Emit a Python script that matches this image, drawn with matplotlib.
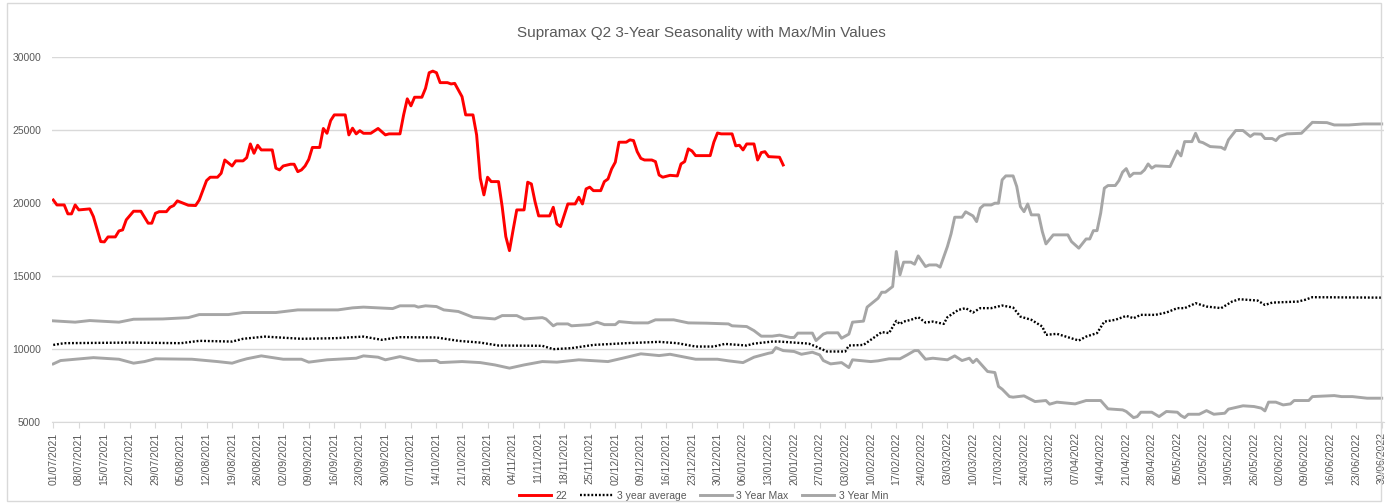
import numpy as np
import pandas as pd
import matplotlib
matplotlib.use("Agg")
import matplotlib.pyplot as plt
import matplotlib.dates as mdates
from matplotlib.patches import Rectangle

plt.rcParams["font.family"] = ["Liberation Sans", "DejaVu Sans"]

# season starts 01/07/2021, x values are days since that date
season_start = "2021-07-01"
season_end = "2022-06-30"

red_day = [0, 1, 3, 4, 5, 6, 7, 10, 11, 13, 14, 15, 17, 18, 19, 20, 22, 24, 26, 27, 28, 29, 31, 32, 33, 34,
           37, 39, 40, 42, 43, 45, 46, 47, 49, 50, 52, 53, 54, 55, 56, 57, 60, 61, 62, 63, 65, 66, 67, 68, 69,
           70, 71, 73, 74, 75, 76, 77, 80, 81, 82, 83, 84, 85, 87, 89, 91, 92, 95, 96, 97, 98, 99, 101, 102,
           103, 104, 105, 106, 108, 109, 110, 112, 113, 115, 116, 117, 118, 119, 120, 122, 123, 124, 125, 126,
           127, 129, 130, 131, 132, 133, 136, 137, 138, 139, 141, 143, 144, 145, 146, 147, 148, 150, 151, 152,
           153, 154, 155, 157, 158, 159, 160, 161, 162, 164, 165, 166, 167, 169, 171, 172, 173, 174, 175, 176,
           180, 181, 182, 183, 186, 187, 188, 189, 190, 192, 193, 194, 195, 196, 199, 200]
red_val = [20200, 19860, 19860, 19250, 19250, 19860, 19520, 19590, 19060, 17350, 17330, 17670, 17670, 18080,
           18150, 18840, 19430, 19430, 18610, 18610, 19290, 19400, 19400, 19700, 19820, 20140, 19840, 19820,
           20200, 21530, 21760, 21760, 22030, 22940, 22530, 22880, 22880, 23100, 24040, 23400, 23950, 23630,
           23630, 22380, 22260, 22530, 22650, 22650, 22140, 22260, 22530, 22980, 23800, 23800, 25100, 24770,
           25640, 26030, 26030, 24660, 25120, 24730, 24950, 24770, 24770, 25100, 24660, 24730, 24730, 26030,
           27130, 26650, 27240, 27240, 27850, 28920, 29030, 28920, 28240, 28240, 28150, 28190, 27280, 26030,
           26030, 24660, 21690, 20550, 21760, 21460, 21460, 19750, 17690, 16730, 18150, 19520, 19520, 21420,
           21300, 20090, 19110, 19110, 19700, 18560, 18380, 19930, 19930, 20390, 19930, 20960, 21080, 20840,
           20840, 21460, 21640, 22330, 22790, 24160, 24160, 24320, 24270, 23510, 23050, 22940, 22940, 22830,
           21910, 21760, 21890, 21850, 22670, 22830, 23700, 23560, 23240, 23240, 24160, 24790, 24730, 24730,
           23910, 23950, 23630, 24040, 24040, 22940, 23450, 23510, 23170, 23130, 22600]

avg_day = [0, 3, 21, 35, 40, 49, 52, 58, 68, 77, 85, 90, 95, 105, 111, 117, 122, 134, 137, 142, 148, 157,
           166, 171, 176, 181, 184, 190, 192, 197, 199, 207, 209, 212, 217, 218, 222, 224, 227, 229, 231, 232,
           233, 235, 237, 239, 241, 244, 245, 248, 250, 252, 254, 257, 260, 263, 265, 268, 271, 272, 275, 281,
           283, 286, 288, 291, 294, 296, 298, 302, 305, 308, 310, 312, 313, 316, 320, 323, 325, 330, 332, 334,
           341, 343, 345, 364]
avg_val = [10270, 10390, 10430, 10390, 10550, 10500, 10690, 10840, 10690, 10730, 10840, 10620, 10800, 10780,
           10550, 10430, 10230, 10210, 9980, 10050, 10270, 10390, 10480, 10390, 10160, 10160, 10340, 10230,
           10360, 10500, 10500, 10360, 10160, 9820, 9820, 10230, 10270, 10620, 11150, 11080, 11920, 11700,
           11870, 11990, 12170, 11800, 11870, 11710, 12170, 12670, 12790, 12490, 12790, 12790, 12970, 12830,
           12210, 11990, 11530, 10960, 11030, 10570, 10840, 11080, 11870, 11990, 12260, 12100, 12330, 12330,
           12490, 12790, 12790, 13010, 13130, 12900, 12790, 13240, 13400, 13310, 13010, 13170, 13240, 13360,
           13540, 13510]

max_day = [0, 6, 10, 18, 22, 30, 37, 40, 48, 52, 61, 67, 78, 82, 85, 93, 95, 99, 100, 102, 105, 107, 111,
           115, 121, 123, 127, 129, 134, 135, 137, 138, 141, 142, 147, 149, 151, 154, 155, 159, 163, 165, 170,
           174, 179, 185, 186, 190, 192, 194, 197, 199, 202, 203, 204, 208, 209, 211, 212, 215, 216, 218, 219,
           222, 223, 226, 227, 228, 230, 231, 232, 233, 235, 236, 237, 239, 240, 242, 243, 245, 246, 247, 249,
           250, 252, 253, 254, 255, 257, 258, 259, 260, 261, 263, 264, 265, 266, 267, 268, 270, 271, 272, 274,
           278, 279, 281, 283, 284, 285, 286, 287, 288, 289, 291, 292, 293, 294, 295, 296, 298, 299, 300, 301,
           302, 306, 308, 309, 310, 312, 313, 314, 315, 317, 320, 321, 322, 324, 326, 328, 329, 331, 332, 334,
           335, 336, 338, 342, 344, 345, 349, 351, 355, 359, 364]
max_val = [11920, 11830, 11940, 11830, 12030, 12050, 12140, 12350, 12350, 12490, 12490, 12670, 12670, 12810,
           12860, 12760, 12950, 12950, 12860, 12950, 12900, 12670, 12560, 12170, 12050, 12280, 12280, 12050,
           12140, 12050, 11580, 11710, 11710, 11580, 11660, 11830, 11660, 11660, 11870, 11780, 11780, 11990,
           11990, 11780, 11760, 11710, 11580, 11530, 11250, 10870, 10870, 10940, 10780, 10780, 11080, 11080,
           10570, 11010, 11100, 11100, 10730, 11010, 11830, 11900, 12860, 13470, 13880, 13880, 14270, 16670,
           15070, 15940, 15940, 15800, 16370, 15640, 15750, 15750, 15600, 17010, 17880, 19020, 19020, 19390,
           19110, 18720, 19640, 19860, 19860, 19980, 19980, 21580, 21850, 21850, 21120, 19750, 19400, 19930,
           19180, 19180, 18040, 17190, 17810, 17810, 17350, 16900, 17530, 17530, 18100, 18100, 19300, 21010,
           21190, 21190, 21530, 22110, 22350, 21810, 22030, 22030, 22260, 22670, 22380, 22540, 22490, 23560,
           23220, 24200, 24200, 24770, 24200, 24130, 23860, 23810, 23670, 24320, 24960, 24960, 24550, 24730,
           24710, 24410, 24410, 24270, 24550, 24730, 24770, 25270, 25520, 25500, 25340, 25340, 25410, 25410]

min_day = [0, 2, 11, 18, 22, 25, 28, 38, 45, 49, 51, 53, 57, 63, 68, 70, 75, 83, 85, 89, 91, 95, 100, 105,
           106, 112, 117, 121, 125, 129, 134, 138, 144, 152, 156, 161, 166, 169, 176, 182, 185, 189, 192, 196,
           197, 198, 200, 203, 205, 208, 210, 211, 213, 216, 218, 219, 224, 226, 229, 232, 234, 236, 237, 239,
           241, 245, 247, 249, 251, 252, 253, 256, 258, 259, 260, 262, 263, 266, 269, 272, 273, 275, 280, 283,
           287, 289, 293, 294, 296, 297, 298, 301, 303, 305, 308, 309, 310, 311, 314, 316, 318, 321, 322, 326,
           329, 331, 332, 333, 335, 337, 339, 340, 344, 345, 351, 353, 356, 360, 364]
min_val = [8970, 9200, 9400, 9290, 9020, 9130, 9320, 9290, 9130, 9020, 9180, 9320, 9520, 9290, 9290, 9090,
           9250, 9360, 9520, 9430, 9250, 9470, 9180, 9200, 9060, 9130, 9060, 8900, 8680, 8900, 9130, 9090,
           9250, 9130, 9360, 9660, 9540, 9630, 9290, 9290, 9180, 9060, 9430, 9700, 9750, 10090, 9880, 9820,
           9630, 9770, 9590, 9200, 8970, 9060, 8720, 9250, 9130, 9180, 9320, 9320, 9590, 9880, 9880, 9290,
           9360, 9250, 9520, 9200, 9360, 9060, 9290, 8450, 8380, 7420, 7240, 6730, 6690, 6780, 6390, 6460,
           6210, 6350, 6230, 6460, 6460, 5890, 5820, 5710, 5290, 5360, 5660, 5660, 5360, 5710, 5660, 5430,
           5290, 5520, 5520, 5770, 5520, 5590, 5870, 6100, 6050, 5940, 5750, 6350, 6350, 6160, 6230, 6460,
           6460, 6730, 6800, 6730, 6730, 6620, 6620]

title = "Supramax Q2 3-Year Seasonality with Max/Min Values"

start = pd.Timestamp(season_start)


def to_dates(days):
    return start + pd.to_timedelta(np.array(days), unit="D")


grey = "#a6a6a6"
text_col = "#595959"
grid_col = "#d9d9d9"

fig = plt.figure(figsize=(13.88, 5.04), dpi=100)
ax = fig.add_axes([0.0375, 0.163, 0.9595, 0.724])

ax.plot(to_dates(red_day), red_val, color="#ff0000", lw=2.1, label="22", zorder=5)
ax.plot(to_dates(avg_day), avg_val, color="black", lw=1.7, dashes=(0.8, 0.8),
        dash_capstyle="butt", label="3 year average", zorder=4)
ax.plot(to_dates(max_day), max_val, color=grey, lw=2.1, label="3 Year Max", zorder=3)
ax.plot(to_dates(min_day), min_val, color=grey, lw=2.1, label="3 Year Min", zorder=3)

ax.set_ylim(5000, 30000)
ax.set_yticks(range(5000, 30001, 5000))
ax.set_xlim(start - pd.Timedelta(hours=8), pd.Timestamp(season_end) + pd.Timedelta(hours=14))
ax.set_xticks(pd.date_range(season_start, season_end, freq="7D"))
ax.xaxis.set_major_formatter(mdates.DateFormatter("%d/%m/%Y"))
ax.tick_params(axis="x", labelrotation=90, labelsize=7.5, colors=text_col, length=4, color=grid_col)
ax.tick_params(axis="y", labelsize=7.5, colors=text_col, length=0, pad=8)
ax.grid(axis="y", color=grid_col, lw=1)
ax.set_axisbelow(True)
for s in ["top", "right", "left"]:
    ax.spines[s].set_visible(False)
ax.spines["bottom"].set_color(grid_col)

fig.text(0.505, 0.935, title, ha="center", va="center", fontsize=11, color=text_col)

ax.legend(loc="center", bbox_to_anchor=(0.489, -0.203), ncol=4, frameon=False,
          fontsize=7.5, labelcolor=text_col, handlelength=3.1, columnspacing=1.3,
          handletextpad=0.4, borderaxespad=0, borderpad=0)

fig.add_artist(Rectangle((0.005, 0.005), 0.99, 0.99, transform=fig.transFigure,
                         fill=False, edgecolor=grid_col, lw=1))

fig.savefig("out.png", dpi=100)
